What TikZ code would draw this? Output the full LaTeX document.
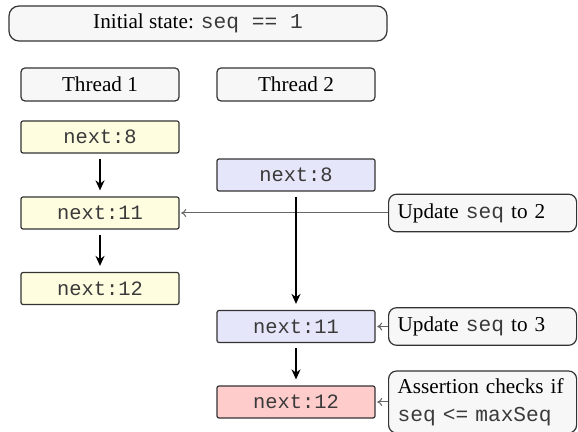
\documentclass[tikz,border=0pt]{standalone}
\usepackage{fontspec}
\setmainfont{Liberation Serif}
\setmonofont{Liberation Mono}
\usetikzlibrary{arrows.meta}
\definecolor{boxgray}{HTML}{F7F7F7}
\definecolor{yel}{HTML}{FFFDE0}
\definecolor{lav}{HTML}{E6E6FA}
\definecolor{pink}{HTML}{FFCCCC}
\definecolor{edge}{HTML}{333333}
\definecolor{conn}{HTML}{666666}
\definecolor{mono}{HTML}{3A3A3A}
\newcommand{\code}[1]{{\color{mono}\texttt{#1}}}
\tikzset{
  base/.style={draw=edge, line width=0.6pt, inner sep=0pt, align=center,
    font=\fontsize{10.6}{13}\selectfont},
  initbox/.style={base, fill=boxgray, rounded corners=5pt, minimum width=189pt, minimum height=17.5pt},
  threadbox/.style={base, fill=boxgray, rounded corners=2pt, minimum width=79pt, minimum height=16.5pt},
  stbox/.style={base, rounded corners=1pt, minimum width=79pt, minimum height=16pt,
    font=\ttfamily\fontsize{10.2}{12}\selectfont, text=mono},
  ybox/.style={stbox, fill=yel},
  lbox/.style={stbox, fill=lav},
  rbox/.style={stbox, fill=pink},
  notebox/.style={base, fill=boxgray, rounded corners=4pt, minimum height=18.8pt,
    align=left, text width=85pt, inner xsep=4.5pt},
  flow/.style={-{Stealth[length=5pt,width=4.5pt]}, line width=0.9pt, black, shorten <=2.5pt, shorten >=3pt},
  note/.style={-{To[length=2.5pt,width=4pt]}, line width=0.5pt, conn, shorten >=0.8pt},
}
\begin{document}
\begin{tikzpicture}[x=0.5pt,y=-0.5pt]
\clip (0,0) rectangle (578,432);
\useasboundingbox (0,0) rectangle (578,432);
\node[initbox] (init) at (198,23.5) {Initial state: \code{seq == 1}};
\node[threadbox] (t1) at (100,84.5) {Thread 1};
\node[threadbox] (t2) at (296,84.5) {Thread 2};
\node[ybox] (a8) at (100,137) {next:8};
\node[ybox] (a11) at (100,213) {next:11};
\node[ybox] (a12) at (100,288.5) {next:12};
\node[lbox] (b8) at (296,175) {next:8};
\node[lbox] (b11) at (296,326.5) {next:11};
\node[rbox] (b12) at (296,402) {next:12};
\node[notebox, anchor=west] (u2) at (388,213) {Update \code{seq} to 2};
\node[notebox, anchor=west] (u3) at (388,326.5) {Update \code{seq} to 3};
\node[notebox, anchor=west, minimum height=31pt] (as) at (388,402)
  {Assertion checks if\\[1pt]\code{seq <= maxSeq}};
\draw[note] (u2) -- (a11);
\draw[note] (u3) -- (b11);
\draw[note] (as.west) -- (b12);
\draw[flow] (a8) -- (a11);
\draw[flow] (a11) -- (a12);
\draw[flow] (b8) -- (b11);
\draw[flow] (b11) -- (b12);
\end{tikzpicture}
\end{document}
